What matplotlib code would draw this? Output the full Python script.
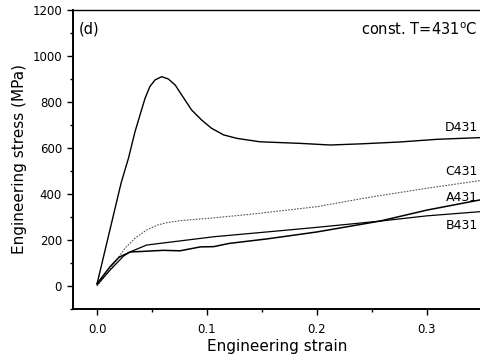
import matplotlib
matplotlib.use("Agg")
import matplotlib.pyplot as plt
from matplotlib.ticker import MultipleLocator

plt.rcParams['font.family'] = ['DejaVu Sans']

# Kurven (Dehnung, Spannung in MPa)
d_strain = [0.0, 0.0218, 0.0285, 0.0345, 0.039, 0.0436, 0.048, 0.0527, 0.0588,
            0.0648, 0.071, 0.077, 0.086, 0.095, 0.104, 0.115, 0.127, 0.148, 0.185,
            0.212, 0.24, 0.275, 0.31, 0.348]
d_stress = [10, 447, 555, 671, 743, 816, 867, 896, 910,
            900, 874, 830, 765, 722, 686, 657, 642, 627, 620,
            613, 618, 626, 638, 645]

c_strain = [0.0, 0.01, 0.018, 0.0255, 0.035, 0.045, 0.055, 0.063, 0.0755, 0.106,
            0.148, 0.2, 0.248, 0.3, 0.348]
c_stress = [0, 60, 115, 165, 210, 243, 265, 275, 284, 296,
            316, 345, 386, 425, 458]

a_strain = [0.0, 0.012, 0.02, 0.03, 0.04, 0.06, 0.0755, 0.094, 0.106, 0.12, 0.155,
            0.2, 0.257, 0.3, 0.348]
a_stress = [10, 85, 125, 148, 150, 155, 153, 170, 171, 185, 205,
            235, 282, 330, 374]

b_strain = [0.0, 0.012, 0.024, 0.03, 0.045, 0.0755, 0.106, 0.166, 0.2, 0.257,
            0.3, 0.348]
b_stress = [5, 70, 130, 148, 178, 196, 214, 240, 255, 282,
            305, 323]

labels = ['D431', 'C431', 'A431', 'B431']
label_y = [687, 496, 383, 265]

fig = plt.figure(figsize=(4.81, 3.57), dpi=100)
ax = fig.add_axes([0.152, 0.1345, 0.85, 0.8375])

ax.plot(d_strain, d_stress, color='black', lw=1.0)
ax.plot(c_strain, c_stress, color='#555555', lw=0.8, linestyle=(0, (1.5, 1.2)))
ax.plot(a_strain, a_stress, color='black', lw=1.1)
ax.plot(b_strain, b_stress, color='black', lw=0.9)

for lab, yy in zip(labels, label_y):
    ax.text(0.346, yy, lab, ha='right', va='center', fontsize=9)

ax.text(0.015, 0.935, '(d)', transform=ax.transAxes, fontsize=10.5, va='center')
ax.text(0.99, 0.935, 'const. T=431$^{\\mathrm{o}}$C', transform=ax.transAxes,
        fontsize=10.5, ha='right', va='center')

ax.set_xlim(-0.0218, 0.35)
ax.set_ylim(-100, 1200)
ax.xaxis.set_major_locator(MultipleLocator(0.1))
ax.xaxis.set_minor_locator(MultipleLocator(0.05))
ax.yaxis.set_major_locator(MultipleLocator(200))
ax.yaxis.set_minor_locator(MultipleLocator(100))
ax.tick_params(which='major', direction='out', length=4, width=1.0, labelsize=8.5)
ax.tick_params(which='minor', direction='out', length=2.5, width=1.0)
ax.tick_params(axis='x', pad=6)
ax.tick_params(axis='y', pad=4)

ax.spines['left'].set_linewidth(1.4)
ax.spines['bottom'].set_linewidth(1.4)
ax.spines['top'].set_linewidth(1.0)
ax.spines['right'].set_visible(False)

ax.set_xlabel('Engineering strain', fontsize=11, labelpad=2)
ax.set_ylabel('Engineering stress (MPa)', fontsize=11, labelpad=4)

fig.savefig('out.png', dpi=100)
